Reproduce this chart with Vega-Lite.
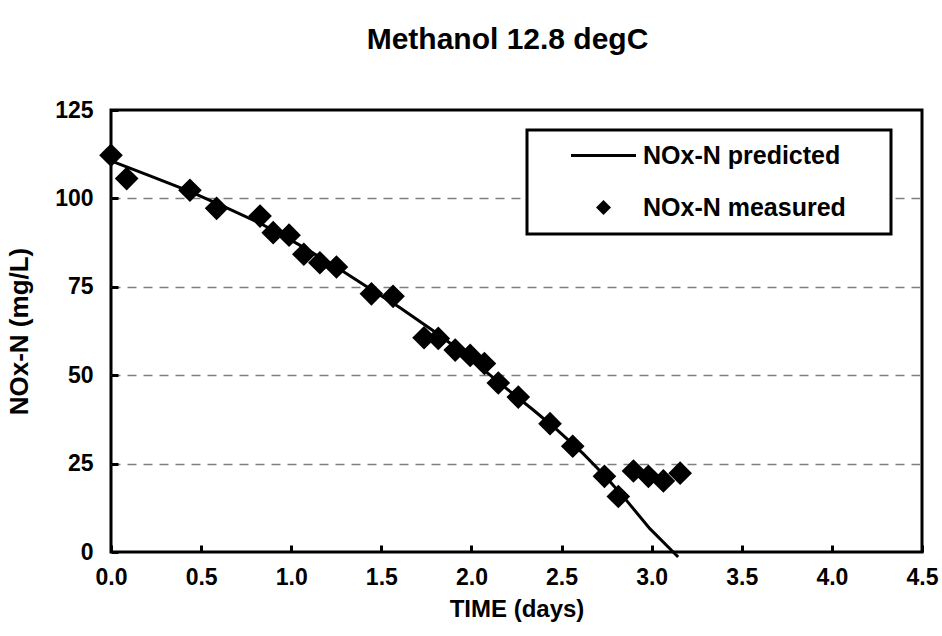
{
  "$schema": "https://vega.github.io/schema/vega-lite/v6.json",
  "width": 811,
  "height": 442,
  "autosize": {"type": "none"},
  "padding": {"left": 111, "top": 110, "right": 20, "bottom": 84},
  "background": "white",
  "title": {
    "text": "Methanol 12.8 degC",
    "font": "Liberation Sans",
    "fontSize": 30,
    "fontWeight": "bold",
    "color": "black",
    "anchor": "middle",
    "frame": "group",
    "baseline": "alphabetic",
    "offset": 20,
    "dx": -9
  },
  "config": {
    "view": {"stroke": "black", "strokeWidth": 3},
    "axis": {
      "labelFont": "Liberation Sans",
      "labelFontWeight": "bold",
      "labelColor": "black",
      "titleFont": "Liberation Sans",
      "titleFontWeight": "bold",
      "titleColor": "black",
      "domain": false,
      "tickColor": "black",
      "tickWidth": 3,
      "tickSize": -7
    }
  },
  "layer": [
    {
      "data": {
        "values": [
          {"time": 0.0, "nox": 110.6, "series": "NOx-N predicted"},
          {"time": 0.22, "nox": 106.3, "series": "NOx-N predicted"},
          {"time": 0.44, "nox": 101.9, "series": "NOx-N predicted"},
          {"time": 0.63, "nox": 97.6, "series": "NOx-N predicted"},
          {"time": 0.83, "nox": 92.9, "series": "NOx-N predicted"},
          {"time": 1.04, "nox": 87.0, "series": "NOx-N predicted"},
          {"time": 1.25, "nox": 80.6, "series": "NOx-N predicted"},
          {"time": 1.45, "nox": 74.0, "series": "NOx-N predicted"},
          {"time": 1.6, "nox": 69.2, "series": "NOx-N predicted"},
          {"time": 1.79, "nox": 62.5, "series": "NOx-N predicted"},
          {"time": 1.95, "nox": 56.5, "series": "NOx-N predicted"},
          {"time": 2.08, "nox": 51.0, "series": "NOx-N predicted"},
          {"time": 2.2, "nox": 46.0, "series": "NOx-N predicted"},
          {"time": 2.34, "nox": 40.3, "series": "NOx-N predicted"},
          {"time": 2.48, "nox": 34.3, "series": "NOx-N predicted"},
          {"time": 2.62, "nox": 27.8, "series": "NOx-N predicted"},
          {"time": 2.75, "nox": 21.0, "series": "NOx-N predicted"},
          {"time": 2.86, "nox": 14.6, "series": "NOx-N predicted"},
          {"time": 2.99, "nox": 6.6, "series": "NOx-N predicted"},
          {"time": 3.147, "nox": -1.4, "series": "NOx-N predicted"}
        ]
      },
      "mark": {"type": "line", "strokeWidth": 3, "clip": false},
      "encoding": {
        "x": {
          "field": "time",
          "type": "quantitative",
          "scale": {"domain": [0, 4.5], "nice": false, "zero": false},
          "axis": {
            "values": [0, 0.5, 1, 1.5, 2, 2.5, 3, 3.5, 4, 4.5],
            "format": ".1f",
            "labelFontSize": 23,
            "labelPadding": 21,
            "labelFlush": false,
            "grid": false,
            "title": "TIME (days)",
            "titleFontSize": 24,
            "titlePadding": 8
          }
        },
        "y": {
          "field": "nox",
          "type": "quantitative",
          "scale": {"domain": [0, 125], "nice": false},
          "axis": {
            "values": [0, 25, 50, 75, 100, 125],
            "labelFontSize": 23,
            "labelPadding": 25,
            "labelFlush": false,
            "grid": true,
            "gridDash": [9, 7],
            "gridWidth": 1.5,
            "gridColor": {
              "condition": {"test": "datum.value === 0 || datum.value === 125", "value": "transparent"},
              "value": "#7f7f7f"
            },
            "title": "NOx-N (mg/L)",
            "titleFontSize": 26,
            "titlePadding": 22
          }
        },
        "color": {
          "field": "series",
          "type": "nominal",
          "scale": {"domain": ["NOx-N predicted", "NOx-N measured"], "range": ["black", "black"]},
          "legend": {
            "orient": "none",
            "legendX": 416,
            "legendY": 20,
            "title": "\u00a0",
            "titleOrient": "right",
            "titleFont": "Liberation Sans",
            "titleFontSize": 25,
            "titlePadding": 32,
            "padding": 13,
            "rowPadding": 26,
            "symbolSize": 520,
            "symbolStrokeWidth": 0,
            "symbolOffset": 51,
            "labelOffset": 27,
            "labelLimit": 600,
            "labelFont": "Liberation Sans",
            "labelFontSize": 25,
            "labelFontWeight": "bold",
            "labelColor": "black",
            "strokeColor": "black",
            "fillColor": "white",
            "encode": {
              "legend": {"update": {"strokeWidth": {"value": 3}}},
              "symbols": {
                "update": {
                  "shape": {"signal": "datum.value === 'NOx-N predicted' ? 'stroke' : 'diamond'"},
                  "size": {"signal": "datum.value === 'NOx-N predicted' ? 4225 : 225"},
                  "fill": {"value": "black"},
                  "stroke": {"value": "black"},
                  "strokeWidth": {"signal": "datum.value === 'NOx-N predicted' ? 3 : 0"},
                  "opacity": {"value": 1}
                }
              }
            }
          }
        }
      }
    },
    {
      "data": {
        "values": [
          {"time": 0.0, "nox": 112.2, "series": "NOx-N measured"},
          {"time": 0.087, "nox": 105.6, "series": "NOx-N measured"},
          {"time": 0.438, "nox": 102.3, "series": "NOx-N measured"},
          {"time": 0.586, "nox": 97.2, "series": "NOx-N measured"},
          {"time": 0.827, "nox": 95.0, "series": "NOx-N measured"},
          {"time": 0.9, "nox": 90.3, "series": "NOx-N measured"},
          {"time": 0.988, "nox": 89.6, "series": "NOx-N measured"},
          {"time": 1.07, "nox": 84.2, "series": "NOx-N measured"},
          {"time": 1.159, "nox": 81.8, "series": "NOx-N measured"},
          {"time": 1.251, "nox": 80.6, "series": "NOx-N measured"},
          {"time": 1.445, "nox": 73.0, "series": "NOx-N measured"},
          {"time": 1.565, "nox": 72.3, "series": "NOx-N measured"},
          {"time": 1.737, "nox": 60.6, "series": "NOx-N measured"},
          {"time": 1.816, "nox": 60.4, "series": "NOx-N measured"},
          {"time": 1.91, "nox": 57.1, "series": "NOx-N measured"},
          {"time": 1.993, "nox": 55.6, "series": "NOx-N measured"},
          {"time": 2.072, "nox": 53.3, "series": "NOx-N measured"},
          {"time": 2.149, "nox": 47.8, "series": "NOx-N measured"},
          {"time": 2.26, "nox": 43.8, "series": "NOx-N measured"},
          {"time": 2.436, "nox": 36.3, "series": "NOx-N measured"},
          {"time": 2.562, "nox": 29.9, "series": "NOx-N measured"},
          {"time": 2.738, "nox": 21.4, "series": "NOx-N measured"},
          {"time": 2.815, "nox": 15.7, "series": "NOx-N measured"},
          {"time": 2.899, "nox": 22.9, "series": "NOx-N measured"},
          {"time": 2.982, "nox": 21.4, "series": "NOx-N measured"},
          {"time": 3.065, "nox": 20.1, "series": "NOx-N measured"},
          {"time": 3.158, "nox": 22.3, "series": "NOx-N measured"}
        ]
      },
      "mark": {"type": "point", "shape": "diamond", "filled": true, "size": 560, "opacity": 1},
      "encoding": {
        "x": {"field": "time", "type": "quantitative"},
        "y": {"field": "nox", "type": "quantitative"},
        "color": {"field": "series", "type": "nominal"}
      }
    }
  ]
}
